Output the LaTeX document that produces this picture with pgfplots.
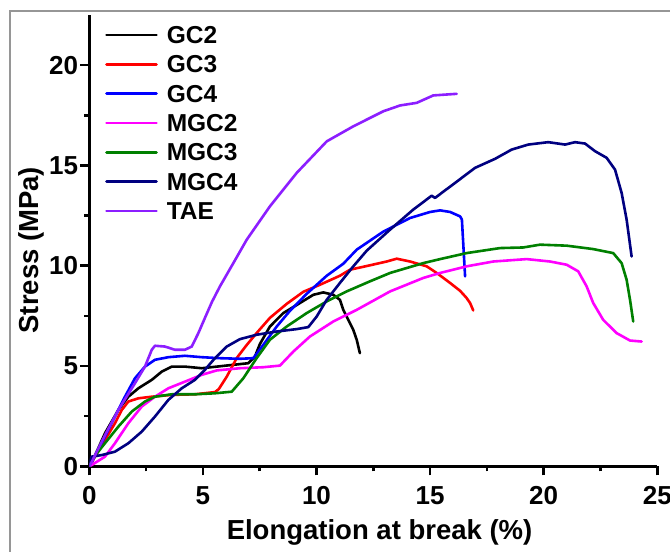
\documentclass[border=0pt]{standalone}
\usepackage{pgfplots}
\pgfplotsset{compat=1.18}
\usepackage{fontspec}
\setmainfont{Liberation Sans}
\definecolor{cGCtwo}{RGB}{0,0,0}
\definecolor{cGCthree}{RGB}{255,0,0}
\definecolor{cGCfour}{RGB}{0,0,255}
\definecolor{cMGCtwo}{RGB}{255,0,255}
\definecolor{cMGCthree}{RGB}{0,128,0}
\definecolor{cMGCfour}{RGB}{0,0,128}
\definecolor{cTAE}{RGB}{140,30,255}
\definecolor{framegray}{RGB}{150,150,150}
\begin{document}
\begin{tikzpicture}
\useasboundingbox (0,0) rectangle (670pt,552pt);
\draw[framegray, line width=1.5pt] (10pt,0pt) -- (10pt,541pt) -- (670pt,541pt);
\begin{axis}[
  at={(89.3pt,85.7pt)}, anchor=south west,
  scale only axis, width=568pt, height=451.3pt,
  xmin=0, xmax=25, ymin=0, ymax=22.5,
  axis x line*=bottom, axis y line*=left,
  axis line style={line width=2.5pt, -},
  xtick={0,5,10,15,20,25}, ytick={0,5,10,15,20},
  minor xtick={2.5,7.5,12.5,17.5,22.5}, minor ytick={2.5,7.5,12.5,17.5},
  tick align=outside, major tick length=9pt, minor tick length=5pt,
  every tick/.style={line width=2.5pt, black},
  tick label style={font=\fontsize{26}{26}\selectfont\bfseries},
  /pgf/number format/assume math mode=true,
  yticklabel style={inner sep=1pt, xshift=-1pt},
  xticklabel style={inner sep=1pt, yshift=-10pt},
  xlabel={Elongation at break (\%)},
  ylabel={Stress (MPa)},
  label style={font=\fontsize{27.5}{28}\selectfont\bfseries},
  xlabel style={at={(axis description cs:0.511,-0.1611)}, anchor=base},
  ylabel style={at={(axis description cs:-0.0898,0.479)}, anchor=base},
  legend style={at={(axis cs:0.69,21.93)}, anchor=north west, draw=none, fill=none,
    font=\fontsize{24.5}{25}\selectfont\bfseries, inner sep=0pt, row sep=12.3pt,
    nodes={inner sep=0pt, text height=17pt, text depth=0pt},
    /tikz/every odd column/.append style={column sep=9pt}},
  legend cell align=left,
  legend image code/.code={\draw[#1, line width=2.6pt] (0pt,0pt) -- (50pt,0pt);},
  every axis plot/.append style={line width=2.6pt, line join=round, line cap=round},
]
\addplot[cGCtwo] coordinates {(0,0) (0.1,0.15) (0.69,1.65) (1.28,2.81) (1.72,3.47) (2.16,3.89) (2.75,4.31) (3.19,4.72) (3.63,4.97) (4.21,4.97) (4.95,4.89) (5.61,4.97) (6.34,5.06) (7.0,5.14) (7.29,5.47) (7.51,6.1) (7.95,6.97) (8.54,7.64) (9.27,8.14) (9.86,8.55) (10.30,8.67) (10.74,8.55) (11.03,8.30) (11.18,7.80) (11.40,7.30) (11.62,6.80) (11.77,6.31) (11.91,5.64)};
\addlegendentry{GC2}
\addplot[cGCthree] coordinates {(0,0) (0.1,0.2) (0.69,1.31) (1.13,2.15) (1.43,2.81) (1.72,3.23) (2.16,3.39) (2.75,3.47) (3.63,3.56) (4.65,3.59) (5.53,3.7) (5.7,3.85) (6.05,4.47) (6.49,5.4) (6.93,6.05) (7.37,6.65) (7.95,7.4) (8.69,8.1) (9.42,8.7) (10.15,9.05) (11.03,9.5) (11.47,9.8) (12.35,10.02) (13.09,10.21) (13.53,10.35) (14.12,10.21) (14.85,9.97) (15.29,9.64) (15.88,9.14) (16.32,8.75) (16.6,8.4) (16.76,8.14) (16.90,7.77)};
\addlegendentry{GC3}
\addplot[cGCfour] coordinates {(0,0) (0.1,0.2) (0.69,1.48) (1.13,2.48) (1.57,3.47) (2.01,4.39) (2.45,4.97) (2.89,5.31) (3.48,5.44) (4.21,5.51) (4.95,5.44) (5.75,5.39) (6.63,5.36) (7.22,5.39) (7.66,6.06) (8.25,6.97) (8.83,7.75) (9.57,8.6) (10.45,9.5) (11.18,10.1) (11.77,10.8) (12.94,11.7) (14.12,12.38) (15.0,12.68) (15.44,12.76) (15.88,12.68) (16.32,12.46) (16.40,12.3) (16.54,9.47)};
\addlegendentry{GC4}
\addplot[cMGCtwo] coordinates {(0,0) (0.1,0.06) (0.69,0.48) (1.13,1.15) (1.72,2.15) (2.31,2.98) (2.89,3.47) (3.48,3.89) (4.21,4.22) (4.95,4.56) (5.61,4.78) (6.63,4.89) (7.66,4.94) (8.39,5.02) (8.98,5.72) (9.71,6.47) (10.74,7.22) (11.77,7.80) (13.24,8.72) (14.70,9.39) (15.44,9.64) (16.61,9.97) (17.78,10.21) (19.25,10.33) (20.28,10.21) (21.01,10.05) (21.52,9.72) (21.89,8.97) (22.18,8.14) (22.62,7.30) (23.21,6.64) (23.80,6.27) (24.31,6.22)};
\addlegendentry{MGC2}
\addplot[cMGCthree] coordinates {(0,0) (0.1,0.31) (0.69,1.15) (1.28,1.98) (1.87,2.73) (2.45,3.23) (2.89,3.47) (3.63,3.59) (4.65,3.59) (5.53,3.64) (6.27,3.72) (6.78,4.39) (7.37,5.4) (7.95,6.31) (8.69,6.97) (9.57,7.64) (10.45,8.22) (11.33,8.72) (12.35,9.22) (13.24,9.64) (14.70,10.13) (15.44,10.33) (16.61,10.63) (18.08,10.88) (19.10,10.91) (19.84,11.05) (21.01,11.0) (22.18,10.83) (23.06,10.63) (23.43,10.13) (23.65,9.30) (23.80,8.30) (23.94,7.22)};
\addlegendentry{MGC3}
\addplot[cMGCfour] coordinates {(0,0) (0.1,0.48) (0.55,0.56) (1.13,0.73) (1.72,1.15) (2.31,1.73) (2.89,2.48) (3.48,3.31) (4.07,3.89) (4.65,4.31) (5.09,4.81) (5.46,5.3) (6.05,5.97) (6.63,6.34) (7.37,6.56) (8.25,6.72) (9.13,6.84) (9.64,6.94) (10.01,7.47) (10.45,8.30) (11.03,9.14) (11.62,9.97) (12.21,10.75) (13.24,11.80) (14.26,12.80) (15.07,13.49) (15.22,13.38) (15.51,13.63) (16.10,14.13) (16.98,14.88) (17.86,15.33) (18.59,15.79) (19.32,16.04) (20.20,16.16) (20.94,16.04) (21.38,16.16) (21.82,16.09) (22.26,15.71) (22.77,15.38) (23.14,14.79) (23.43,13.63) (23.65,12.30) (23.87,10.46)};
\addlegendentry{MGC4}
\addplot[cTAE] coordinates {(0,0) (0.1,0.2) (0.69,1.55) (1.28,2.81) (2.01,4.14) (2.45,4.97) (2.75,5.81) (2.89,6.01) (3.33,5.97) (3.77,5.81) (4.21,5.81) (4.51,5.97) (4.80,6.64) (5.09,7.4) (5.4,8.2) (5.75,8.97) (6.34,10.13) (6.93,11.30) (7.95,12.96) (9.13,14.63) (10.45,16.2) (11.62,16.95) (12.94,17.70) (13.68,17.99) (14.41,18.12) (15.14,18.49) (16.17,18.57)};
\addlegendentry{TAE}
\end{axis}
\end{tikzpicture}
\end{document}
